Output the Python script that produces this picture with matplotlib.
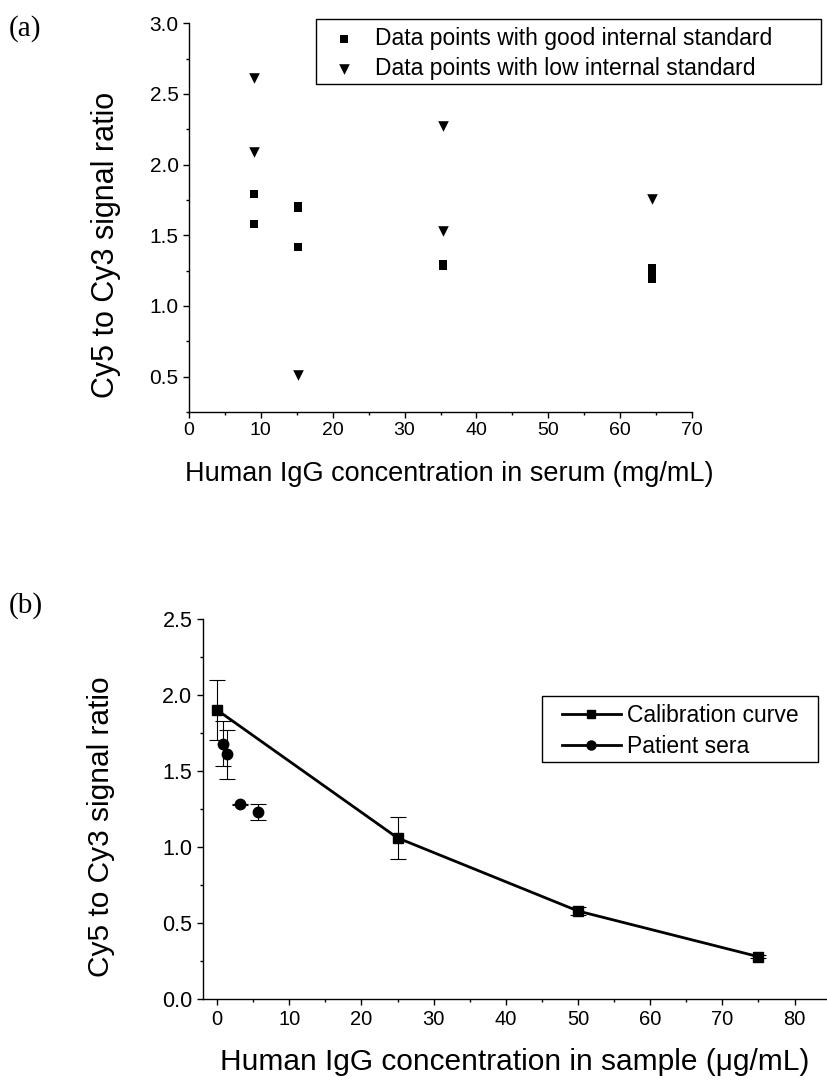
import matplotlib
matplotlib.use('Agg')
import matplotlib.pyplot as plt
from matplotlib.lines import Line2D
from matplotlib.patches import Rectangle
from matplotlib.ticker import MultipleLocator

plt.rcParams['font.family'] = ['Liberation Sans', 'DejaVu Sans']

# panel (a): ratio vs serum IgG
good_x = [9.1, 9.1, 15.2, 15.2, 15.2, 35.3, 35.3, 64.5, 64.5, 64.5]
good_y = [1.79, 1.58, 1.71, 1.69, 1.42, 1.30, 1.28, 1.27, 1.23, 1.19]
low_x = [9.1, 9.1, 15.2, 35.3, 35.3, 64.5]
low_y = [2.61, 2.09, 0.51, 2.27, 1.53, 1.76]

# panel (b): calibration curve and patient sera
cal_x = [0, 25, 50, 75]
cal_y = [1.90, 1.06, 0.58, 0.28]
cal_err = [0.195, 0.137, 0.025, 0.01]
sera_x = [0.83, 1.42, 3.13, 5.67]
sera_y = [1.68, 1.61, 1.28, 1.23]
sera_err = [0.15, 0.16, 0.003, 0.05]

W, H = 827, 1084
fig = plt.figure(figsize=(W / 100, H / 100), dpi=100)


def fx(px):
    return px / W


def fy(py):
    return 1 - py / H


def style_axes(ax, xsize, ysize):
    for s in ['top', 'right']:
        ax.spines[s].set_visible(False)
    for s in ['left', 'bottom']:
        ax.spines[s].set_linewidth(1.0)
    ax.tick_params(which='major', direction='out', length=4.5, width=1, pad=3)
    ax.tick_params(which='minor', direction='out', length=2.5, width=1)
    ax.tick_params(axis='x', labelsize=xsize)
    ax.tick_params(axis='y', labelsize=ysize)


def frame_box(x0, y0, x1, y1):
    # legend frame drawn in figure pixels
    fig.patches.append(Rectangle((fx(x0), fy(y1)), fx(x1) - fx(x0), fy(y0) - fy(y1),
                                 transform=fig.transFigure, fill=False,
                                 edgecolor='black', linewidth=1.0))


# ---- (a) ----
ax1 = fig.add_axes([fx(189), fy(412), fx(503), 388.7 / H])
style_axes(ax1, 14, 15)
ax1.scatter(good_x, good_y, marker='s', s=40, color='black', linewidths=0, zorder=3,
            label='Data points with good internal standard')
ax1.scatter(low_x, low_y, marker='v', s=58, color='black', linewidths=0, zorder=3,
            label='Data points with low internal standard')
ax1.set_xlim(0, 70)
ax1.set_ylim(0.25, 3.0)
ax1.xaxis.set_major_locator(MultipleLocator(10))
ax1.xaxis.set_minor_locator(MultipleLocator(5))
ax1.yaxis.set_minor_locator(MultipleLocator(0.25))
ax1.set_yticks([0.5, 1.0, 1.5, 2.0, 2.5, 3.0])
ax1.set_ylabel('Cy5 to Cy3 signal ratio', fontsize=22)
ax1.yaxis.set_label_coords(-0.135, 0.43)
ax1.set_xlabel('Human IgG concentration in serum (mg/mL)', fontsize=19.5)
ax1.xaxis.set_label_coords(0.518, -0.125)
ax1.legend(loc='upper left', bbox_to_anchor=(fx(323), fy(27)),
           bbox_transform=fig.transFigure, borderaxespad=0, borderpad=0,
           fontsize=16.5, frameon=False, handlelength=1.83, handletextpad=0.43,
           labelspacing=0.3, scatterpoints=1)
frame_box(315.7, 19, 821, 84)
fig.text(fx(9), fy(29), '(a)', family=['Liberation Serif', 'DejaVu Serif'],
         fontsize=21, va='center', ha='left')

# ---- (b) ----
ax2 = fig.add_axes([fx(202.7), fy(999.3), fx(624.3), 380.6 / H])
style_axes(ax2, 14.5, 15.5)
ax2.errorbar(cal_x, cal_y, yerr=cal_err, color='black', lw=2.0, marker='s', ms=7,
             ecolor='black', elinewidth=0.8, capsize=6, capthick=0.8, zorder=3)
ax2.errorbar(sera_x, sera_y, yerr=sera_err, color='black', ls='none', marker='o', ms=7.5,
             ecolor='black', elinewidth=0.8, capsize=6, capthick=0.8, zorder=3)
ax2.set_xlim(-2, 84.5)
ax2.set_ylim(0, 2.5)
ax2.xaxis.set_major_locator(MultipleLocator(10))
ax2.xaxis.set_minor_locator(MultipleLocator(5))
ax2.yaxis.set_major_locator(MultipleLocator(0.5))
ax2.yaxis.set_minor_locator(MultipleLocator(0.25))
ax2.set_ylabel('Cy5 to Cy3 signal ratio', fontsize=21.5)
ax2.yaxis.set_label_coords(-0.14, 0.453)
ax2.set_xlabel('Human IgG concentration in sample (\u03bcg/mL)', fontsize=21.5)
ax2.xaxis.set_label_coords(0.5, -0.128)
handles = [Line2D([], [], color='black', lw=2.0, marker='s', ms=6),
           Line2D([], [], color='black', lw=2.0, marker='o', ms=6.5)]
ax2.legend(handles, ['Calibration curve', 'Patient sera'], loc='upper left',
           bbox_to_anchor=(fx(561.7), fy(704)), bbox_transform=fig.transFigure,
           borderaxespad=0, borderpad=0, fontsize=16.5, frameon=False,
           handlelength=2.6, handletextpad=0.27, labelspacing=0.33, numpoints=1)
frame_box(542.3, 695.7, 817.7, 762.3)
fig.text(fx(9), fy(606), '(b)', family=['Liberation Serif', 'DejaVu Serif'],
         fontsize=21, va='center', ha='left')

fig.savefig('out.png', dpi=100)
